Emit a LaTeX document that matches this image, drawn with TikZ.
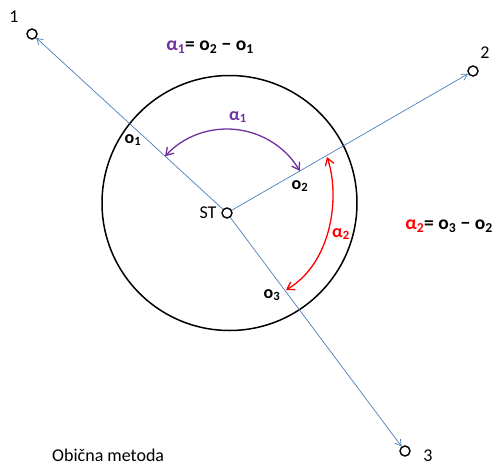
\documentclass[tikz,border=0pt]{standalone}
\usepackage{fontspec}
\setmainfont{Carlito}
\usetikzlibrary{arrows.meta}
\definecolor{lineblue}{RGB}{74,126,187}
\definecolor{officepurple}{RGB}{112,48,160}
\begin{document}
\begin{tikzpicture}[x=1pt,y=-1pt,
  pt/.style={circle,draw=black,line width=1.4pt,fill=white,minimum size=10pt,inner sep=0pt},
  ray/.style={draw=lineblue,line width=0.7pt,-{Straight Barb[length=6pt,width=7pt]}},
  lbl/.style={font=\fontsize{18}{20}\selectfont,inner sep=0pt},
  olbl/.style={font=\fontsize{18}{20}\selectfont\bfseries,inner sep=0pt},
  flbl/.style={font=\fontsize{19.5}{22}\selectfont\bfseries,inner sep=0pt},
  angarc/.style={line width=1.3pt,{Straight Barb[length=7pt,width=9pt]}-{Straight Barb[length=7pt,width=9pt]}}
]
\path[use as bounding box] (0,0) rectangle (496,466);
% circle
\node[circle,draw=black,line width=1.5pt,minimum size=255pt,inner sep=0pt] (C) at (229.5,203) {};
% points
\node[pt] (ST) at (227,213) {};
\node[pt] (P1) at (32,34) {};
\node[pt] (P2) at (473,71) {};
\node[pt] (P3) at (405,451) {};
% rays
\draw[ray] (ST) -- (P1);
\draw[ray] (ST) -- (P2);
\draw[ray] (ST) -- (P3);
% labels
\node[lbl] (L1) at (14,17) {1};
\node[lbl] (L2) at (485,53) {2};
\node[lbl] (L3) at (428,456) {3};
\node[lbl] (LST) at (208,213) {ST};
\node[olbl] (o1) at (133,140) {o\textsubscript{1}};
\node[olbl] (o2) at (300,186) {o\textsubscript{2}};
\node[olbl] (o3) at (272,295) {o\textsubscript{3}};
% alpha1 arc
\coordinate (a1s) at ([shift={(-137.5:84)}]ST.center);
\draw[angarc,officepurple] (a1s) arc[start angle=-137.5,end angle=-30,radius=84];
\node[olbl,text=officepurple] (al1) at (238,117) {α\textsubscript{1}};
% alpha2 arc
\coordinate (a2s) at (327,157);
\coordinate (a2e) at (286,290);
\draw[angarc,red] (a2s) .. controls (340,195) and (333,262) .. (a2e);
\node[olbl,text=red] (al2) at (341,234) {α\textsubscript{2}};
% formulas
\node[flbl] (f1) at (210,47) {\textcolor{officepurple}{α\textsubscript{1}}= o\textsubscript{2} − o\textsubscript{1}};
\node[flbl] (f2) at (449,226) {\textcolor{red}{α\textsubscript{2}}= o\textsubscript{3} − o\textsubscript{2}};
\node[lbl,anchor=west] (m) at (52,455) {Obična metoda};
\end{tikzpicture}
\end{document}
